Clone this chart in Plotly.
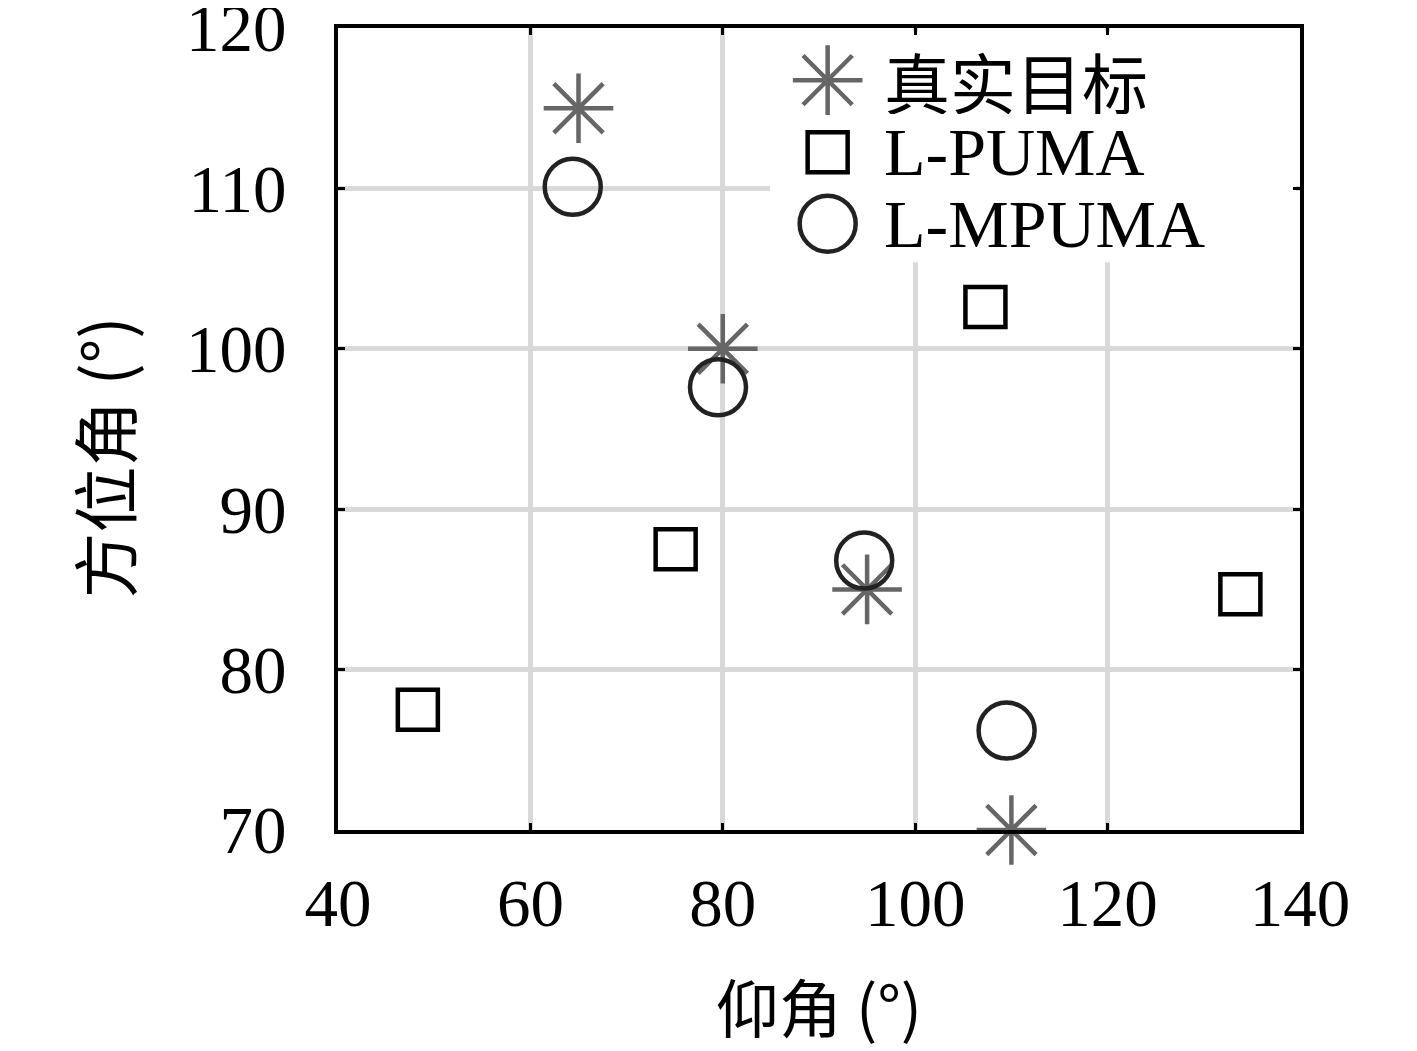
import plotly.graph_objects as go

# Data
true_x = [65, 80, 95, 110]
true_y = [115, 100, 85, 70]
puma_x = [48.3, 75.1, 107.3, 133.8]
puma_y = [77.5, 87.5, 102.6, 84.7]
mpuma_x = [64.4, 79.5, 94.7, 109.5]
mpuma_y = [110.1, 97.6, 86.8, 76.2]
series_names = ["真实目标", "L-PUMA", "L-MPUMA"]
x_ticks = [40, 60, 80, 100, 120, 140]
y_ticks = [70, 80, 90, 100, 110, 120]
x_title = "仰角 (°)"
y_title = "方位角 (°)"

X_RANGE = [40, 140]
Y_RANGE = [70, 120]

FONT = "Liberation Serif, Noto Sans CJK SC, serif"
CJK = "Noto Sans CJK SC, Liberation Serif, serif"


def fx(f):  # domain fraction -> x data
    return X_RANGE[0] + f * (X_RANGE[1] - X_RANGE[0])


def fy(f):  # domain fraction -> y data
    return Y_RANGE[0] + f * (Y_RANGE[1] - Y_RANGE[0])


styles = [
    dict(symbol="asterisk-open", size=58, color="#666666", lw=4.5),
    dict(symbol="square-open", size=40, color="#000000", lw=4.5),
    dict(symbol="circle-open", size=56, color="#222222", lw=4.5),
]
data = [(true_x, true_y), (puma_x, puma_y), (mpuma_x, mpuma_y)]

fig = go.Figure()
for (xs, ys), st, name in zip(data, styles, series_names):
    fig.add_trace(go.Scatter(
        x=xs, y=ys, mode="markers", name=name, showlegend=False,
        marker=dict(symbol=st["symbol"], size=st["size"], color=st["color"],
                    line=dict(color=st["color"], width=st["lw"])),
        cliponaxis=False,
    ))

# Custom legend with large symbols
leg_y = [0.935, 0.845, 0.756]
for st, name, ly in zip(styles, series_names, leg_y):
    fig.add_trace(go.Scatter(
        x=[fx(0.509)], y=[fy(ly)], mode="markers", showlegend=False, hoverinfo="skip",
        marker=dict(symbol=st["symbol"], size=st["size"],
                    color=st["color"], line=dict(color=st["color"], width=st["lw"])),
        cliponaxis=False,
    ))
    fig.add_annotation(
        x=0.565, y=ly, xref="x domain", yref="y domain", text=name,
        showarrow=False, xanchor="left", yanchor="middle", height=68, valign="middle",
        font=dict(family=CJK if name == "真实目标" else FONT, size=66 if name == "真实目标" else 68, color="black"),
    )

# White legend background covering grid (drawn between grid and traces)
fig.add_shape(type="rect", xref="x", yref="y", x0=fx(0.449), x1=fx(0.996), y0=fy(0.708), y1=fy(0.996),
              fillcolor="white", line=dict(width=0), layer="between")

fig.add_annotation(x=0.5, y=-0.217, xref="x domain", yref="y domain", text=x_title, showarrow=False,
                   xanchor="center", yanchor="middle", font=dict(family=CJK, size=63, color="black"))
fig.add_annotation(x=-0.245, y=0.465, xref="x domain", yref="y domain", text=y_title, showarrow=False,
                   textangle=-90, xanchor="center", yanchor="middle", font=dict(family=CJK, size=66, color="black"))

axis_common = dict(
    showgrid=True, gridcolor="#d9d9d9", gridwidth=5,
    showline=True, linecolor="black", linewidth=4, mirror="ticks",
    ticks="inside", ticklen=7, tickwidth=3, tickcolor="black",
    zeroline=False, tickfont=dict(family=FONT, size=67, color="black"),
    ticklabeloverflow="allow", automargin=False,
)
fig.update_layout(
    template="none",
    width=1409, height=1043,
    margin=dict(l=330, r=117, t=20, b=221),
    paper_bgcolor="white", plot_bgcolor="white",
    xaxis=dict(range=X_RANGE, tickvals=x_ticks, ticktext=[str(v) for v in x_ticks],
               ticklabelstandoff=12, **axis_common),
    yaxis=dict(range=Y_RANGE, tickvals=y_ticks, ticktext=[str(v) for v in y_ticks],
               ticklabelstandoff=34, **axis_common),
    showlegend=False,
)

fig.write_html("out.html")
